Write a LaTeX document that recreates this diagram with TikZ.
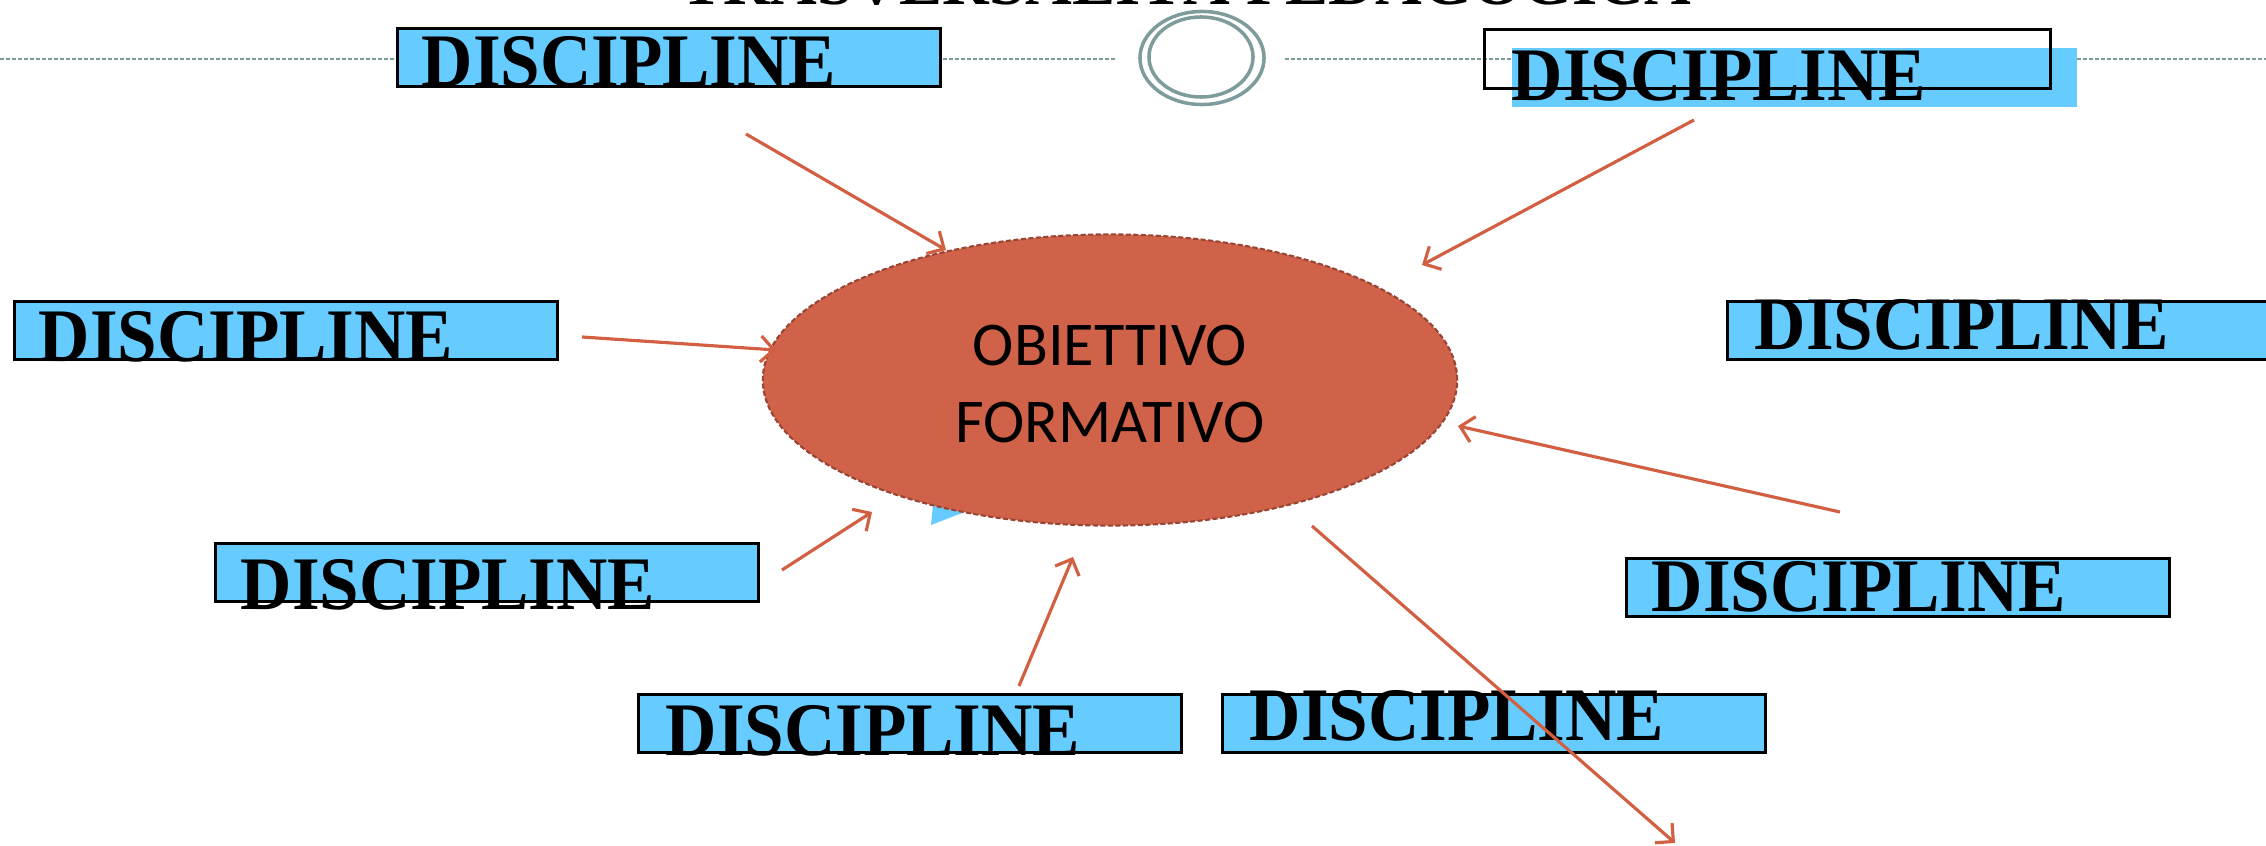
\documentclass[tikz,border=0pt]{standalone}
\usepackage{fontspec}
\setmainfont{Liberation Serif}
\newfontfamily\carl{Carlito}
\usetikzlibrary{arrows.meta,shapes.geometric}
\definecolor{disc}{HTML}{66CCFF}
\definecolor{arr}{HTML}{D35F42}
\definecolor{ellfill}{HTML}{CF6249}
\definecolor{ellbord}{HTML}{9A4433}
\definecolor{tealgray}{HTML}{7F9C9C}
\begin{document}
\begin{tikzpicture}[x=0.01cm,y=-0.01cm,
  dbox/.style={rectangle,draw=black,line width=0.75pt,fill=disc,minimum width=5.43cm,minimum height=0.58cm,inner sep=0pt,anchor=north west},
  dfill/.style={rectangle,fill=disc,minimum width=5.65cm,minimum height=0.59cm,inner sep=0pt,anchor=north west},
  dline/.style={rectangle,draw=black,line width=0.75pt,minimum width=5.66cm,minimum height=0.59cm,inner sep=0pt,anchor=north west},
  dtext/.style={anchor=base west,inner sep=0pt,font=\fontsize{21.5}{24}\selectfont\bfseries},
  conn/.style={draw=arr,line width=0.9pt,-{Straight Barb[length=0.13cm,width=0.26cm]}},
  sepline/.style={draw=tealgray,line width=0.6pt,dash pattern=on 0.04cm off 0.02cm},
  ring/.style={draw=tealgray,line width=1pt},
]
\useasboundingbox (0,0) rectangle (2266,846);
% title (cut off at the top)
\node[anchor=base west,inner sep=0pt] (title) at (680,5) {\resizebox{10.1cm}{!}{\bfseries TRASVERSALITÀ PEDAGOGICA}};
% separator line with double ring
\coordinate (l0) at (0,59);
\coordinate (l1) at (1115,59);
\coordinate (l2) at (1285,59);
\coordinate (l3) at (2266,59);
\draw[sepline] (l0) -- (l1);
\draw[sepline] (l2) -- (l3);
\node[ellipse,ring,minimum width=1.24cm,minimum height=0.93cm,inner sep=0pt] (ringout) at (1202,58) {};
\node[ellipse,ring,minimum width=1.04cm,minimum height=0.80cm,inner sep=0pt] (ringin) at (1201,57) {};
% DISCIPLINE boxes
\node[dbox] (b1) at (396,27) {};
\node[dtext] (t1) at (421,87) {\scalebox{0.94}[1]{DISCIPLINE}};
\node[dfill] (b2f) at (1511,47) {};
\node[dtext] (t2) at (1511,101) {\scalebox{0.94}[1]{DISCIPLINE}};
\node[dline] (b2) at (1483,28) {};
\node[dbox] (b3) at (13,300) {};
\node[dtext] (t3) at (38,362) {\scalebox{0.94}[1]{DISCIPLINE}};
\node[dbox] (b4) at (1726,300) {};
\node[dtext] (t4) at (1754,350) {\scalebox{0.94}[1]{DISCIPLINE}};
\node[dbox] (b5) at (214,542) {};
\node[dtext] (t5) at (240,610) {\scalebox{0.94}[1]{DISCIPLINE}};
\node[dbox] (b6) at (1625,557) {};
\node[dtext] (t6) at (1651,611) {\scalebox{0.94}[1]{DISCIPLINE}};
\node[dbox] (b7) at (637,693) {};
\node[dtext] (t7) at (665,755) {\scalebox{0.94}[1]{DISCIPLINE}};
\node[dbox] (b8) at (1221,693) {};
\node[dtext] (t8) at (1249,741) {\scalebox{0.94}[1]{DISCIPLINE}};
% small blue shape behind the ellipse
\fill[disc] (931,525) -- (934,495) -- (975,508) -- cycle;
% central ellipse
\node[ellipse,fill=ellfill,draw=ellbord,line width=0.6pt,dash pattern=on 0.05cm off 0.025cm,minimum width=6.94cm,minimum height=2.91cm,inner sep=0pt] (obj) at (1110,380) {};
\node[align=center,inner sep=0pt,font=\carl\fontsize{17.7}{21.9}\selectfont] (objtext) at (1110,384) {OBIETTIVO\\FORMATIVO};
% arrows
\coordinate (a1s) at (746,134);  \coordinate (a1e) at (946,250);
\coordinate (a2s) at (1694,120); \coordinate (a2e) at (1422,265);
\coordinate (a3s) at (582,337);  \coordinate (a3e) at (776,350);
\coordinate (a4s) at (1840,512); \coordinate (a4e) at (1458,426);
\coordinate (a5s) at (782,570);  \coordinate (a5e) at (872,512);
\coordinate (a6s) at (1019,686); \coordinate (a6e) at (1073,557);
\coordinate (a7s) at (1312,526); \coordinate (a7e) at (1675,843);
\draw[conn] (a1s) -- (a1e);
\draw[conn] (a2s) -- (a2e);
\draw[conn] (a3s) -- (a3e);
\draw[conn] (a4s) -- (a4e);
\draw[conn] (a5s) -- (a5e);
\draw[conn] (a6s) -- (a6e);
\draw[conn] (a7s) -- (a7e);
\end{tikzpicture}
\end{document}
